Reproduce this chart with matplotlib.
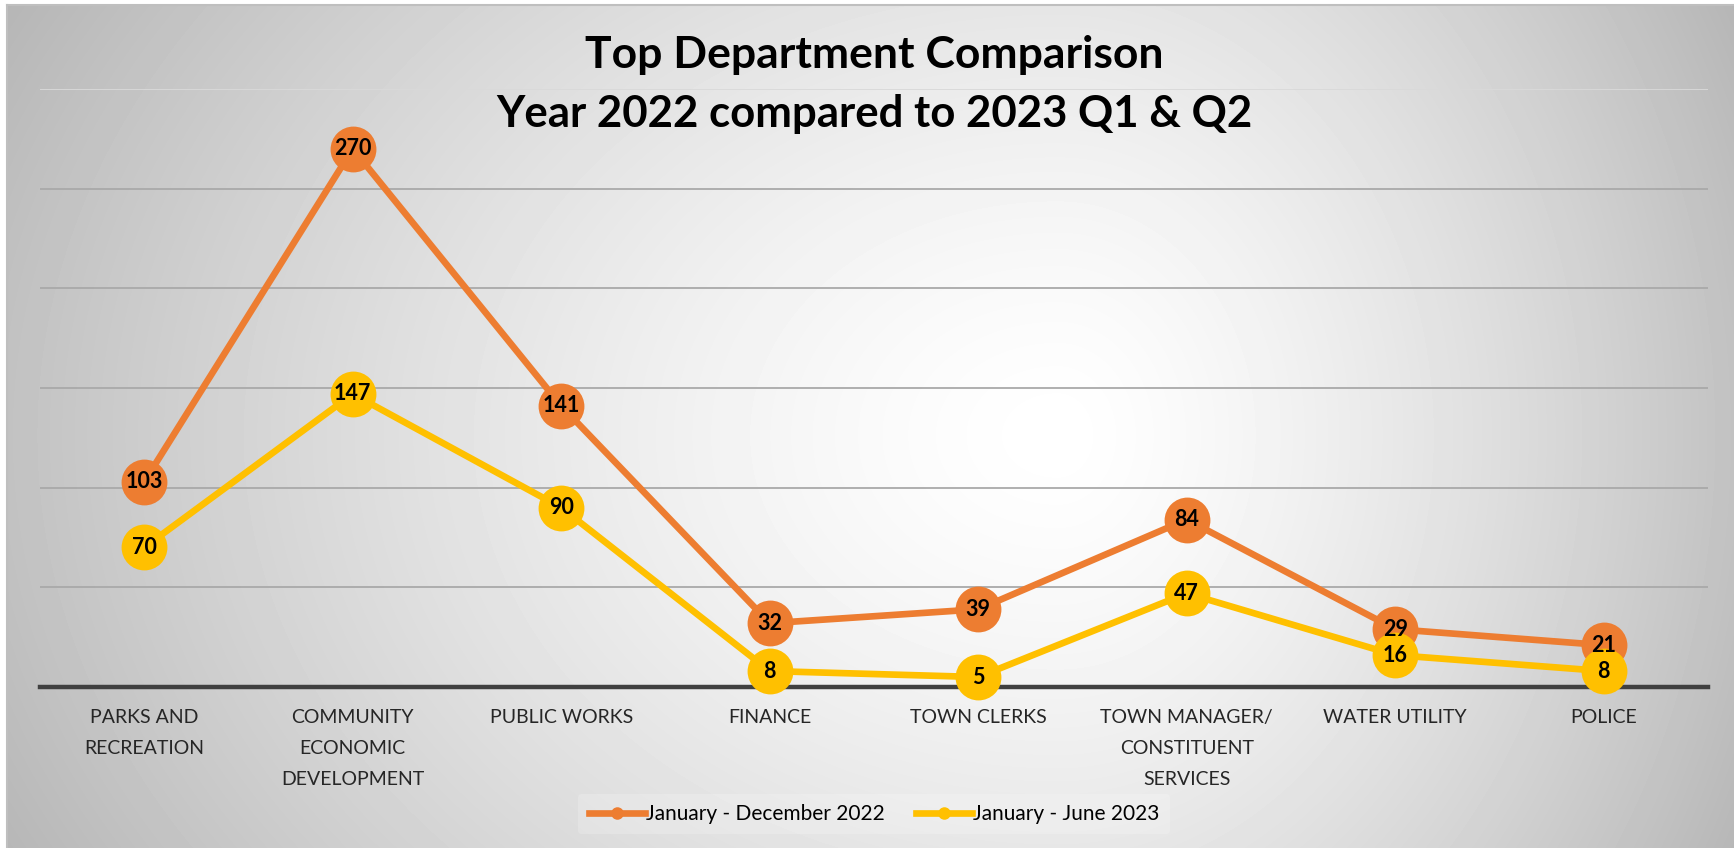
import numpy as np
import matplotlib.pyplot as plt

# chart data
departments = ['PARKS AND\nRECREATION', 'COMMUNITY\nECONOMIC\nDEVELOPMENT', 'PUBLIC WORKS',
               'FINANCE', 'TOWN CLERKS', 'TOWN MANAGER/\nCONSTITUENT\nSERVICES',
               'WATER UTILITY', 'POLICE']
year_2022 = [103, 270, 141, 32, 39, 84, 29, 21]
h1_2023 = [70, 147, 90, 8, 5, 47, 16, 8]
series_names = ['January - December 2022', 'January - June 2023']

orange = '#ED7D31'
yellow = '#FFC000'

plt.rcParams['font.family'] = ['Lato', 'DejaVu Sans']

W, H = 1734, 848
fig = plt.figure(figsize=(W / 100, H / 100), dpi=100, facecolor='white')

# radial gradient background
bg = fig.add_axes([7 / W, 0, 1 - 7 / W, 843 / H])
xx, yy = np.meshgrid(np.arange(W - 7), np.arange(843))
cx, cy = 1050, 430
rx = np.where(xx < cx, cx, (W - 7) - cx)
r = np.sqrt(((xx - cx) / rx) ** 2 + ((yy - cy) / 800) ** 2)
val = 1 - 0.24 * np.clip(r, 0, 1.2) ** 1.4
bg.imshow(val, cmap='gray', vmin=0, vmax=1, aspect='auto', interpolation='bilinear')
bg.set_xticks([])
bg.set_yticks([])
for s in ['right', 'bottom']:
    bg.spines[s].set_visible(False)
for s in ['left', 'top']:
    bg.spines[s].set_color('#BFBFBF')
    bg.spines[s].set_linewidth(1.5)

ax = fig.add_axes([40 / W, 161 / H, 1668 / W, 598 / H])
ax.patch.set_alpha(0)
x = np.arange(len(departments))
ax.set_xlim(-0.5, len(departments) - 0.5)
ax.set_ylim(0, 300)

for g in range(50, 300, 50):
    ax.axhline(g, color='#A9A9A9', lw=1.3, zorder=1)
ax.axhline(300, color='#D9D9D9', lw=1.3, zorder=1)
ax.axhline(0, color='#404040', lw=3.2, zorder=2, clip_on=False)

ax.plot(x, year_2022, color=orange, lw=4.8, marker='o', markersize=33,
        markeredgewidth=0, zorder=3, clip_on=False, label=series_names[0])
ax.plot(x, h1_2023, color=yellow, lw=4.8, marker='o', markersize=33,
        markeredgewidth=0, zorder=4, clip_on=False, label=series_names[1])

for xi, v in zip(x, year_2022):
    ax.text(xi, v, str(v), ha='center', va='center', fontsize=15.5,
            fontweight='bold', color='black', zorder=6)
for xi, v in zip(x, h1_2023):
    ax.text(xi, v, str(v), ha='center', va='center', fontsize=15.5,
            fontweight='bold', color='black', zorder=6)

ax.set_xticks(x)
ax.set_xticklabels(departments, fontsize=14, color='#262626')
ax.tick_params(axis='x', length=0, pad=16)
for lab in ax.get_xticklabels():
    lab.set_linespacing(1.98)
ax.set_yticks([])
for s in ax.spines.values():
    s.set_visible(False)

fig.text(874 / W, 1 - 55 / H, 'Top Department Comparison', ha='center', va='center',
         fontsize=32, fontweight='bold', color='black')
fig.text(874 / W, 1 - 114 / H, 'Year 2022 compared to 2023 Q1 & Q2', ha='center',
         va='center', fontsize=31.5, fontweight='bold', color='black')

handles = [plt.Line2D([], [], color=orange, lw=4.8, marker='o', markersize=8),
           plt.Line2D([], [], color=yellow, lw=4.8, marker='o', markersize=8)]
leg = fig.legend(handles, series_names, loc='center', bbox_to_anchor=(874 / W, 1 - 814 / H),
                 ncol=2, fontsize=15, frameon=True, handlelength=2.7, handletextpad=0.05,
                 columnspacing=1.5, borderpad=0.5)
leg.get_frame().set_facecolor('white')
leg.get_frame().set_alpha(0.2)
leg.get_frame().set_edgecolor('none')

fig.savefig('out.png', dpi=100, facecolor='white')
